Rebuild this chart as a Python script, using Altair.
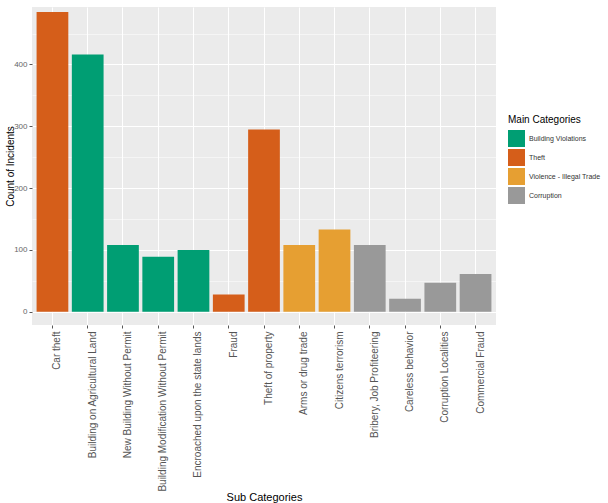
import altair as alt
import pandas as pd

# Incident counts per sub category, grouped into main categories
sub_categories = [
    "Car theft",
    "Building on Agricultural Land",
    "New Building Without Permit",
    "Building Modification Without Permit",
    "Encroached upon the state lands",
    "Fraud",
    "Theft of property",
    "Arms or drug trade",
    "Citizens terrorism",
    "Bribery, Job Profiteering",
    "Careless behavior",
    "Corruption Localities",
    "Commercial Fraud",
]
main_categories = [
    "Theft",
    "Building Violations",
    "Building Violations",
    "Building Violations",
    "Building Violations",
    "Theft",
    "Theft",
    "Violence - Illegal Trade",
    "Violence - Illegal Trade",
    "Corruption",
    "Corruption",
    "Corruption",
    "Corruption",
]
incident_counts = [485, 416, 108, 89, 100, 28, 295, 108, 133, 108, 21, 47, 61]

legend_order = ["Building Violations", "Theft", "Violence - Illegal Trade", "Corruption"]
legend_colors = ["#009E73", "#D55E1A", "#E69F32", "#999999"]

major_ticks = [0, 100, 200, 300, 400]
minor_ticks = [50, 150, 250, 350, 450]

df = pd.DataFrame({
    "sub": sub_categories,
    "main": main_categories,
    "count": incident_counts,
})

y_scale = alt.Scale(domain=[-21.5, 493], nice=False, zero=False)
x_scale = alt.Scale(paddingInner=0.1, paddingOuter=0.13)

# thin white minor grid lines, ggplot-style
minor = alt.Chart(df).mark_point(opacity=0).encode(
    y=alt.Y(
        "count:Q",
        scale=y_scale,
        axis=alt.Axis(
            values=minor_ticks, orient="right", grid=True, gridColor="white",
            gridWidth=0.5, labels=False, ticks=False, domain=False, title=None,
        ),
    ),
)

bars = alt.Chart(df).mark_bar().encode(
    x=alt.X(
        "sub:N",
        sort=sub_categories,
        scale=x_scale,
        axis=alt.Axis(
            title="Sub Categories", labelAngle=270, labelFontSize=10,
            labelColor="#555555", labelPadding=3, labelLimit=0,
            labelBaseline="top", labelAlign="right",
            tickSize=3, tickColor="#555555", domain=False,
            grid=True, gridColor="white", gridWidth=1, bandPosition=0.5,
            titleFontSize=11, titleFontWeight="normal", titleColor="black",
            titleY=166, titleBaseline="top",
        ),
    ),
    y=alt.Y(
        "count:Q",
        scale=y_scale,
        axis=alt.Axis(
            values=major_ticks, title="Count of Incidents", grid=True,
            gridColor="white", gridWidth=1, domain=False, tickSize=3,
            tickColor="#555555", labelFontSize=8, labelColor="#666666",
            labelPadding=2, titleFontSize=10, titleFontWeight="normal",
            titleColor="black", titleX=-22, titleBaseline="middle",
        ),
    ),
    y2=alt.datum(0),
    color=alt.Color(
        "main:N",
        scale=alt.Scale(domain=legend_order, range=legend_colors),
        legend=alt.Legend(
            title="Main Categories", orient="none", legendX=476, legendY=108,
            titleFontSize=10, titleFontWeight="normal", titleColor="black",
            titlePadding=5, labelFontSize=7, labelColor="#333333",
            symbolType="square", symbolSize=289, symbolStrokeWidth=0,
            symbolOpacity=1, rowPadding=2, labelOffset=4,
        ),
    ),
)

chart = (
    alt.layer(minor, bars)
    .resolve_scale(y="shared")
    .resolve_axis(y="independent")
    .properties(
        width=464,
        height=318,
        padding={"left": 32, "top": 7, "right": 112, "bottom": 178},
        autosize=alt.AutoSizeParams(type="none"),
    )
    .configure(font="Liberation Sans")
    .configure_view(fill="#EBEBEB", stroke=None)
)

chart.save("out.html", embed_options={"renderer": "svg", "actions": False})
